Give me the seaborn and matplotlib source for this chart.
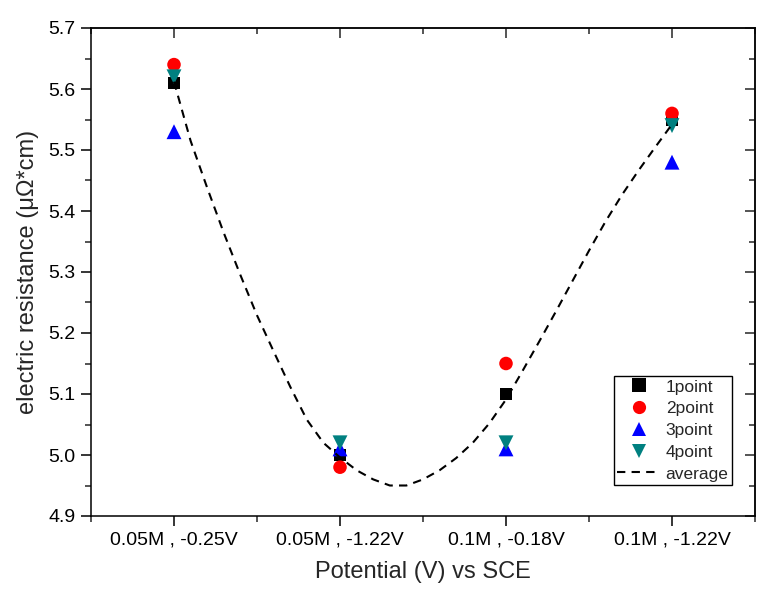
import numpy as np
import pandas as pd
import matplotlib
matplotlib.use("Agg")
import matplotlib.pyplot as plt
import seaborn as sns
from matplotlib.ticker import MultipleLocator, NullFormatter, FormatStrFormatter
from matplotlib.lines import Line2D

# ---------------- data ----------------
categories = ["0.05M , -0.25V", "0.05M , -1.22V", "0.1M , -0.18V", "0.1M , -1.22V"]
series_names = ["1point", "2point", "3point", "4point"]
point1 = [5.61, 5.00, 5.10, 5.55]
point2 = [5.64, 4.98, 5.15, 5.56]
point3 = [5.53, 5.01, 5.01, 5.48]
point4 = [5.62, 5.02, 5.02, 5.54]

# average curve (x in category-position units)
avg_x = [1.0, 1.1, 1.2, 1.3, 1.4, 1.5, 1.6, 1.7, 1.8, 1.9, 2.0,
         2.1, 2.2, 2.3, 2.4, 2.5, 2.6, 2.7, 2.8, 2.9, 3.0,
         3.1, 3.2, 3.3, 3.4, 3.5, 3.6, 3.7, 3.8, 3.9, 4.0]
avg_y = [5.612, 5.515, 5.438, 5.364, 5.295, 5.229, 5.170, 5.112, 5.058, 5.020, 4.996,
         4.975, 4.960, 4.950, 4.950, 4.960, 4.975, 4.995, 5.020, 5.052, 5.091,
         5.138, 5.186, 5.235, 5.285, 5.335, 5.383, 5.427, 5.467, 5.505, 5.542]

colors = {"1point": "#000000", "2point": "#FF0000", "3point": "#0000FF", "4point": "#008080"}
markers = {"1point": "s", "2point": "o", "3point": "^", "4point": "v"}
sizes = {"1point": 78, "2point": 95, "3point": 115, "4point": 115}

rows = []
for name, vals in zip(series_names, [point1, point2, point3, point4]):
    for i, v in enumerate(vals):
        rows.append({"series": name, "pos": i + 1, "value": v})
df = pd.DataFrame(rows)
avg_df = pd.DataFrame({"x": avg_x, "y": avg_y})

# ---------------- style ----------------
sns.set_theme(style="ticks")
plt.rcParams["font.family"] = ["Liberation Sans", "DejaVu Sans"]
plt.rcParams["axes.linewidth"] = 1.1

fig = plt.figure(figsize=(7.66, 6.06), dpi=100)
ax = fig.add_axes([91 / 766, 1 - 516 / 606, (755 - 91) / 766, (516 - 28) / 606])

for name in series_names:
    sub = df[df["series"] == name]
    sns.scatterplot(data=sub, x="pos", y="value", color=colors[name], marker=markers[name],
                    s=sizes[name], edgecolor="none", linewidth=0, ax=ax, zorder=3, legend=False)

sns.lineplot(data=avg_df, x="x", y="y", sort=False, estimator=None, color="black",
             linewidth=1.5, dashes=False, ax=ax, zorder=4)
ax.lines[-1].set_dashes((4, 3))

ax.set_xlim(0.5, 4.5)
ax.set_ylim(4.9, 5.7)
ax.set_xticks([1, 2, 3, 4])
ax.set_xticklabels(categories)
ax.xaxis.set_minor_locator(MultipleLocator(0.5))
ax.yaxis.set_major_locator(MultipleLocator(0.1))
ax.yaxis.set_minor_locator(MultipleLocator(0.05))
ax.yaxis.set_major_formatter(FormatStrFormatter("%.1f"))

ax.tick_params(which="major", direction="out", length=7, width=1.1, labelsize=14,
               colors="black", pad=4)
ax.tick_params(which="minor", direction="out", length=4.5, width=1.1)

# mirrored inward ticks on top and right
top = ax.secondary_xaxis("top")
top.set_xticks([1, 2, 3, 4])
top.xaxis.set_minor_locator(MultipleLocator(0.5))
top.tick_params(which="major", direction="in", length=7, width=1.1, labeltop=False)
top.tick_params(which="minor", direction="in", length=4.5, width=1.1)
top.xaxis.set_major_formatter(NullFormatter())
right = ax.secondary_yaxis("right")
right.yaxis.set_major_locator(MultipleLocator(0.1))
right.yaxis.set_minor_locator(MultipleLocator(0.05))
right.tick_params(which="major", direction="in", length=7, width=1.1, labelright=False)
right.tick_params(which="minor", direction="in", length=4.5, width=1.1)
right.yaxis.set_major_formatter(NullFormatter())

for sp in ax.spines.values():
    sp.set_visible(True)
    sp.set_color("black")
    sp.set_linewidth(1.1)

ax.set_xlabel("Potential (V) vs SCE", fontsize=17, labelpad=9)
ax.set_ylabel("electric resistance (\u03bc\u03a9*cm)", fontsize=17, labelpad=7)

handles = [Line2D([], [], linestyle="none", marker=markers[n], color=colors[n],
                  markersize=9.5, markeredgewidth=0) for n in series_names]
handles.append(Line2D([], [], color="black", linewidth=1.5, dashes=(4, 3)))
labels = series_names + ["average"]
leg = ax.legend(handles, labels, loc="lower right",
                bbox_to_anchor=((732 - 91) / 664, (516 - 485) / 488),
                fontsize=12.5, frameon=True, fancybox=False, framealpha=1,
                edgecolor="black", borderpad=0.2, labelspacing=0.38,
                handlelength=2.5, handletextpad=0.3, borderaxespad=0)
leg.get_frame().set_linewidth(1.0)

fig.savefig("out.png", dpi=100)
